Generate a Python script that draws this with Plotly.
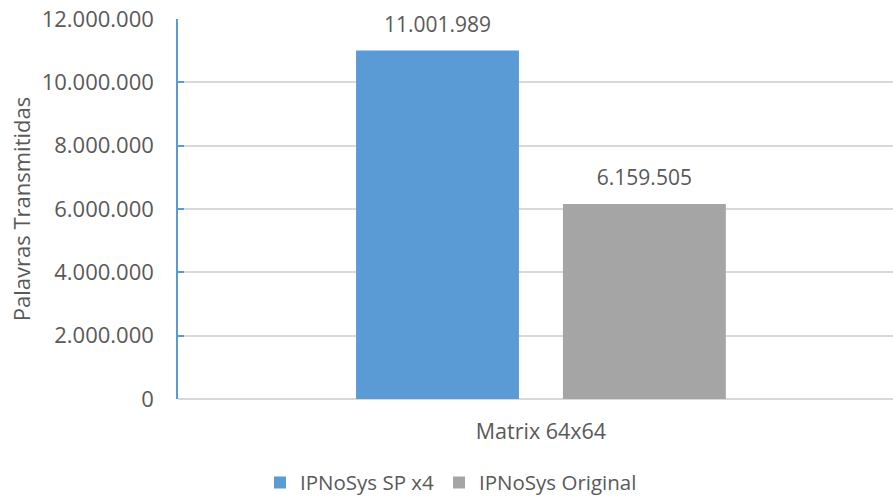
import plotly.graph_objects as go

categories = ["Matrix 64x64"]
series_names = ["IPNoSys SP x4", "IPNoSys Original"]
series_values = [[11001989], [6159505]]
series_colors = ["#5B9BD5", "#A5A5A5"]
y_tick_values = [0, 2000000, 4000000, 6000000, 8000000, 10000000, 12000000]

font_family = "Open Sans, Liberation Sans, sans-serif"
text_color = "#595959"
group_gap = 0.43

fig = go.Figure()
for name, vals, color in zip(series_names, series_values, series_colors):
    fig.add_trace(go.Bar(
        x=categories, y=vals, name=name,
        marker=dict(color=color, line=dict(width=0)),
        hoverinfo="x+y+name",
    ))

# value labels: grouped scatter sharing the bar slots, with a hidden marker
# that keeps the label a bit above the top of each bar
for name, vals in zip(series_names, series_values):
    fig.add_trace(go.Scatter(
        x=categories, y=vals, name=name, showlegend=False,
        mode="markers+text",
        marker=dict(size=20, opacity=0),
        text=[f"{v:,}".replace(",", ".") for v in vals],
        textposition="top center",
        textfont=dict(size=21, color=text_color, family=font_family),
        cliponaxis=False, hoverinfo="skip",
    ))

fig.update_layout(
    width=893, height=496,
    margin=dict(l=178, r=0, t=19, b=97, autoexpand=False),
    paper_bgcolor="white", plot_bgcolor="white",
    separators=",.",
    barmode="group", bargap=group_gap, bargroupgap=0.2126,
    scattermode="group", scattergap=group_gap,
    font=dict(family=font_family, color=text_color, size=20),
    showlegend=True,
    legend=dict(orientation="h", xref="container", x=0.505, xanchor="center",
                yref="container", y=0.027, yanchor="middle",
                font=dict(size=20.5, color=text_color), itemwidth=30,
                traceorder="normal"),
)
fig.update_xaxes(
    range=[-0.5, 0.485], showline=False, showgrid=False, ticks="",
    ticklabelstandoff=17,
    tickfont=dict(size=21.5, color=text_color),
)
fig.update_yaxes(
    range=[0, 12000000], tickvals=y_tick_values, tickformat=",d",
    showgrid=True, gridcolor="#D9D9D9", gridwidth=1.5,
    zeroline=True, zerolinecolor="#D9D9D9", zerolinewidth=1.5,
    showline=True, linecolor="#5B9BD5", linewidth=1.5,
    ticks="inside", ticklen=6, tickcolor="#5B9BD5", tickwidth=1.5,
    ticklabelstandoff=18,
    tickfont=dict(size=22, color=text_color),
    title=dict(text="Palavras Transmitidas", font=dict(size=22, color=text_color), standoff=5),
)

fig.write_html("out.html")
